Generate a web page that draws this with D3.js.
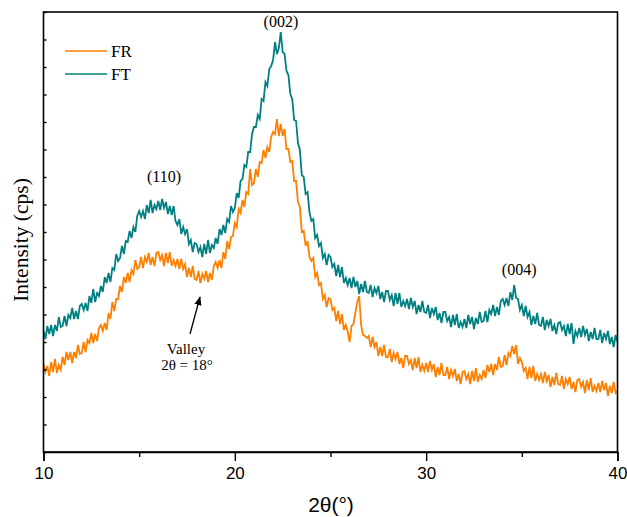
<!DOCTYPE html>
<html><head><meta charset="utf-8">
<script src="https://cdn.jsdelivr.net/npm/d3@7"></script>
<style>body{margin:0;background:#fff}</style>
</head><body>
<script>
// sampling grid 10..40 deg, step 0.1
const thetaStart = 10, thetaStep = 0.1;
const xTicks = [10, 20, 30, 40];
const xMinorTicks = [15, 25, 35];
const seriesNames = ["FR", "FT"];
const seriesColors = ["#FF8000", "#008080"];
const ftIntensity = [
121,113,126,118,127,116,127,121,135,125,
126,136,126,137,134,144,133,141,133,146,
148,142,149,141,156,149,163,150,159,156,
166,160,175,169,179,170,184,182,198,191,
194,206,198,211,210,221,214,225,220,236,
241,235,241,233,247,239,252,239,247,243,
251,242,253,244,250,238,246,237,246,231,
227,233,218,225,218,223,208,212,200,209,
208,200,205,195,208,198,212,199,207,204,
214,208,223,217,227,219,233,230,246,240,
244,259,254,271,273,287,285,300,300,318,
325,325,337,333,353,351,370,366,383,386,
392,410,398,404,420,400,398,381,377,358,
353,332,331,309,302,277,275,258,260,240,
231,233,214,217,206,209,194,198,187,197,
195,185,188,176,187,175,185,169,174,167,
174,164,175,165,171,158,168,160,171,160,
159,167,155,164,159,166,153,160,150,161,
161,152,157,146,159,148,159,145,151,146,
153,143,154,145,151,138,147,140,151,140,
139,147,134,144,138,145,132,139,129,140,
140,131,135,125,137,127,138,124,130,125,
133,124,137,128,135,123,134,128,140,130,
131,141,130,142,138,147,136,145,137,151,
153,147,154,146,160,152,167,154,153,142,
147,136,146,135,140,127,136,128,139,127,
126,135,122,132,126,133,121,127,118,129,
130,122,126,116,128,118,129,108,121,116,
124,115,126,117,123,111,120,113,124,113,
113,122,109,119,113,121,108,115,105,117,
110];
const frIntensity = [
88,80,86,76,90,80,93,79,87,82,
95,87,100,92,100,89,100,94,107,98,
99,110,100,112,109,119,109,118,111,124,
127,121,129,122,139,133,150,141,153,153,
166,160,175,169,179,170,182,178,192,183,
185,195,184,195,190,199,187,195,186,199,
200,192,197,186,199,189,200,186,192,186,
193,183,193,183,188,175,184,175,186,173,
172,181,169,178,173,181,170,179,172,186,
190,184,192,184,200,193,211,203,215,216,
229,225,243,239,252,245,260,258,283,267,
269,283,275,290,289,302,294,305,300,315,
320,318,333,316,328,316,323,303,303,290,
291,271,271,250,245,220,221,206,211,195,
191,194,175,179,167,169,153,157,145,154,
153,142,144,131,141,128,138,122,127,120,
110,126,128,139,150,156,127,117,116,114,
116,105,115,105,110,96,105,96,107,95,
95,103,90,99,93,100,88,94,84,96,
96,88,92,82,94,84,95,80,87,81,
89,80,91,82,88,75,85,77,89,77,
77,85,73,82,76,83,71,78,68,80,
81,73,78,68,81,71,84,70,77,73,
82,74,87,80,88,77,88,82,95,85,
86,97,87,99,96,106,98,107,88,94,
90,81,84,73,85,74,86,71,78,72,
78,69,80,71,77,65,75,67,79,68,
67,76,63,73,68,75,63,70,60,72,
73,65,70,59,72,62,74,60,66,61,
69,60,71,62,69,56,66,59,70,59,
61];
const peakLabels = ["(110)", "(002)", "(004)"];
const peakTheta = [16.3, 22.41, 34.86];
const peakLabelIntensity = [270, 425, 177];

const W = 627, H = 517;
const m = {l: 43.5, r: 617.5, t: 12, b: 452};
const svg = d3.select("body").append("svg").attr("width", W).attr("height", H);
const x = d3.scaleLinear().domain([10, 40]).range([m.l, m.r]);
const y = d3.scaleLinear().domain([0, 440]).range([m.b, m.t]);

const serif = "'Liberation Serif','Times New Roman',serif";
const sans = "'Liberation Sans',Arial,sans-serif";

// lines
const line = d3.line().x((d, i) => x(thetaStart + i * thetaStep)).y(d => y(d));
[frIntensity, ftIntensity].forEach((arr, k) => {
  svg.append("path").datum(arr).attr("d", line).attr("fill", "none")
    .attr("stroke", seriesColors[k]).attr("stroke-width", 1.8).attr("stroke-linejoin", "miter");
});

// frame
svg.append("rect").attr("x", m.l).attr("y", m.t).attr("width", m.r - m.l).attr("height", m.b - m.t)
  .attr("fill", "none").attr("stroke", "#000").attr("stroke-width", 1.6);

// bottom axis
const xAxis = d3.axisBottom(x).tickValues(xTicks).tickSize(9).tickFormat(d3.format("d"));
const gx = svg.append("g").attr("transform", `translate(0,${m.b})`).call(xAxis);
gx.select(".domain").attr("stroke-width", 1.6);
gx.selectAll(".tick line").attr("stroke-width", 1.4);
gx.selectAll(".tick text").attr("font-family", sans).attr("font-size", 17).attr("dy", "0.9em").attr("fill", "#000");
const gxm = svg.append("g").attr("transform", `translate(0,${m.b})`)
  .call(d3.axisBottom(x).tickValues(xMinorTicks).tickSize(5).tickFormat(""));
gxm.select(".domain").remove();
gxm.selectAll(".tick line").attr("stroke-width", 1.4);

// left axis (no labels)
const gy = svg.append("g").attr("transform", `translate(${m.l},0)`)
  .call(d3.axisLeft(y).tickValues(d3.range(0, 440.1, 27.5)).tickSize(-3).tickFormat(""));
gy.select(".domain").remove();
gy.selectAll(".tick line").attr("stroke-width", 1.4);

// axis titles
svg.append("text").attr("x", 331).attr("y", 512).attr("text-anchor", "middle")
  .attr("font-family", sans).attr("font-size", 21).text("2θ(°)");
svg.append("text").attr("transform", "translate(28,240) rotate(-90)").attr("text-anchor", "middle")
  .attr("font-family", serif).attr("font-size", 21.5).text("Intensity (cps)");

// peak labels
peakLabels.forEach((t, i) => {
  svg.append("text").attr("x", x(peakTheta[i])).attr("y", y(peakLabelIntensity[i]))
    .attr("text-anchor", "middle").attr("font-family", serif).attr("font-size", 16).text(t);
});

// valley annotation
svg.append("defs").append("marker").attr("id", "ah").attr("viewBox", "0 0 10 10")
  .attr("refX", 9).attr("refY", 5).attr("markerWidth", 9).attr("markerHeight", 9).attr("orient", "auto")
  .attr("markerUnits", "userSpaceOnUse")
  .append("path").attr("d", "M0,1 L10,5 L0,9 Z").attr("fill", "#000");
svg.append("line").attr("x1", 190).attr("y1", 334).attr("x2", 200).attr("y2", 297)
  .attr("stroke", "#000").attr("stroke-width", 1.3).attr("marker-end", "url(#ah)");
svg.append("text").attr("x", 186).attr("y", 354).attr("text-anchor", "middle")
  .attr("font-family", serif).attr("font-size", 15).text("Valley");
svg.append("text").attr("x", 187).attr("y", 370).attr("text-anchor", "middle")
  .attr("font-family", serif).attr("font-size", 15).text("2θ = 18°");

// legend
seriesNames.forEach((n, i) => {
  const yy = 51 + i * 23;
  svg.append("line").attr("x1", 65).attr("x2", 107).attr("y1", yy).attr("y2", yy)
    .attr("stroke", seriesColors[i]).attr("stroke-width", 1.6);
  svg.append("text").attr("x", 111).attr("y", yy + 6).attr("font-family", serif)
    .attr("font-size", 17).text(n);
});
</script>
</body></html>
